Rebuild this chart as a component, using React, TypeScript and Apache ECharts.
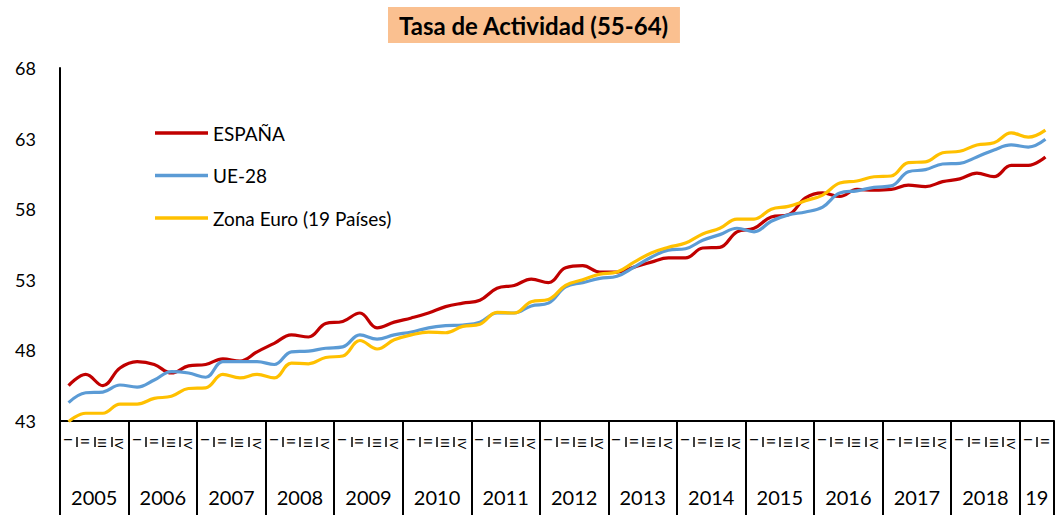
import React, { useEffect, useRef } from "react";
import * as echarts from "echarts";

const quarters: string[] = [];
const yearLabels = ["2005","2006","2007","2008","2009","2010","2011","2012","2013","2014","2015","2016","2017","2018","19"];
const qNames = ["I", "II", "III", "IV"];
for (let y = 0; y < 14; y++) for (let q = 0; q < 4; q++) quarters.push(qNames[q]);
quarters.push("I", "II");

const espana = [45.5,46.3,45.5,46.75,47.2,47.0,46.4,46.9,47.0,47.4,47.25,47.9,48.5,49.1,48.95,49.9,50.05,50.65,49.6,50.0,50.3,50.65,51.1,51.35,51.55,52.4,52.6,53.05,52.8,53.85,54.0,53.55,53.55,53.9,54.25,54.55,54.55,55.25,55.3,56.4,56.65,57.45,57.6,58.8,59.15,58.9,59.4,59.35,59.4,59.7,59.6,59.95,60.15,60.55,60.3,61.1,61.1,61.7];
const ue28 = [44.3,45.0,45.05,45.55,45.4,45.9,46.5,46.4,46.1,47.2,47.2,47.2,47.0,47.9,47.95,48.15,48.25,49.1,48.8,49.1,49.3,49.6,49.75,49.8,50.0,50.65,50.65,51.15,51.35,52.5,52.8,53.1,53.25,53.9,54.6,55.1,55.2,55.8,56.2,56.65,56.4,57.15,57.6,57.8,58.15,59.15,59.3,59.55,59.65,60.65,60.8,61.2,61.25,61.7,62.2,62.55,62.4,62.95];
const zonaEuro = [42.95,43.55,43.55,44.2,44.2,44.6,44.75,45.3,45.35,46.3,46.05,46.3,46.05,47.1,47.05,47.5,47.6,48.7,48.1,48.75,49.1,49.3,49.25,49.7,49.85,50.7,50.65,51.45,51.6,52.6,53.0,53.4,53.55,54.25,54.9,55.3,55.6,56.25,56.65,57.3,57.3,58.0,58.2,58.6,59.0,59.85,60.0,60.3,60.35,61.3,61.35,62.0,62.1,62.55,62.7,63.4,63.1,63.6];
const yTicks = [43, 48, 53, 58, 63, 68];
const yearBounds = [0,4,8,12,16,20,24,28,32,36,40,44,48,52,56,58];
const yearCenters = [2,6,10,14,18,22,26,30,34,38,42,46,50,54,57];

const FONT = "Lato, 'Open Sans', sans-serif";

export default function App() {
  const ref = useRef<HTMLDivElement>(null);
  useEffect(() => {
    if (!ref.current) return;
    const chart = echarts.init(ref.current, null, { renderer: "svg" });
    const n = quarters.length;
    chart.setOption({
      animation: false,
      backgroundColor: "#ffffff",
      textStyle: { fontFamily: FONT },
      title: {
        text: "Tasa de Actividad (55-64)",
        left: 388,
        top: 7,
        backgroundColor: "#FAC090",
        padding: [6, 11, 6, 11],
        textStyle: { fontFamily: FONT, fontSize: 24, fontWeight: "bold", color: "#000" },
      },
      legend: {
        orient: "vertical",
        left: 150,
        top: 117,
        icon: "rect",
        itemWidth: 53,
        itemHeight: 3.5,
        itemGap: 20.5,
        textStyle: { fontFamily: FONT, fontSize: 19, color: "#000", lineHeight: 22 },
        data: ["ESPAÑA", "UE-28", "Zona Euro (19 Países)"],
      },
      grid: { left: 60, right: 2, top: 68, bottom: 94, containLabel: false },
      xAxis: [
        {
          type: "category",
          data: quarters,
          boundaryGap: true,
          position: "bottom",
          axisLine: { show: true, lineStyle: { color: "#000", width: 2 } },
          axisTick: { show: false },
          axisLabel: { rotate: -90, fontSize: 12, margin: 17, color: "#000", interval: 0, fontFamily: FONT },
        },
        {
          type: "category",
          data: quarters,
          boundaryGap: true,
          position: "bottom",
          offset: 16,
          axisLine: { show: false },
          axisTick: { show: true, length: 10, interval: 0, lineStyle: { color: "#000", width: 1.5 } },
          axisLabel: { show: false },
        },
        {
          type: "value",
          min: 0,
          max: n,
          position: "bottom",
          axisLine: { show: false },
          splitLine: { show: false },
          axisTick: { show: true, length: 94, customValues: yearBounds, lineStyle: { color: "#000", width: 2 } },
          axisLabel: {
            customValues: yearCenters,
            margin: 66,
            fontSize: 20,
            color: "#000",
            fontFamily: FONT,
            formatter: (v: number) => yearLabels[Math.floor(v / 4)],
          },
        },
      ],
      yAxis: {
        type: "value",
        min: 43,
        max: 68,
        axisLine: { show: true, lineStyle: { color: "#000", width: 2 } },
        axisTick: { show: false },
        splitLine: { show: false },
        axisLabel: { customValues: yTicks, fontSize: 18, color: "#000", margin: 24, fontFamily: FONT },
      },
      series: [
        { name: "ESPAÑA", type: "line", data: espana, xAxisIndex: 0, symbol: "none", smooth: 0.4, lineStyle: { color: "#C00000", width: 3.2 }, itemStyle: { color: "#C00000" } },
        { name: "UE-28", type: "line", data: ue28, xAxisIndex: 0, symbol: "none", smooth: 0.4, lineStyle: { color: "#5B9BD5", width: 3.2 }, itemStyle: { color: "#5B9BD5" } },
        { name: "Zona Euro (19 Países)", type: "line", data: zonaEuro, xAxisIndex: 0, symbol: "none", smooth: 0.4, lineStyle: { color: "#FFC000", width: 3.2 }, itemStyle: { color: "#FFC000" } },
      ],
    });
    return () => chart.dispose();
  }, []);
  return <div ref={ref} style={{ position: "absolute", left: 0, top: 0, width: 1056, height: 515 }} />;
}
